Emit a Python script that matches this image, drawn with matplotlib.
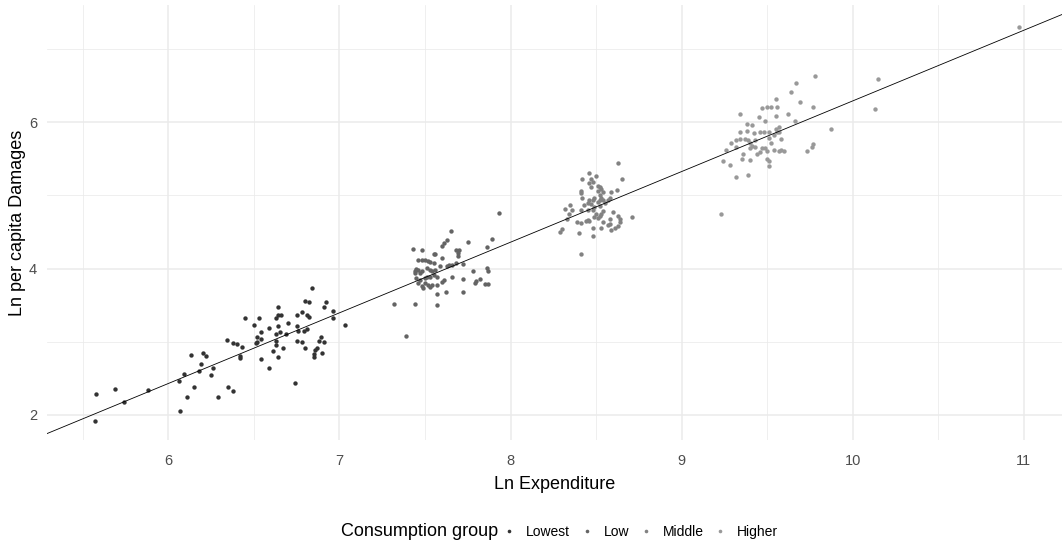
import numpy as np
import matplotlib
matplotlib.use('Agg')
import matplotlib.pyplot as plt
from matplotlib.lines import Line2D

plt.rcParams['font.family'] = ['Liberation Sans', 'DejaVu Sans']

# values (ln expenditure, ln per capita damages)
lowest_x = [5.57, 5.58, 5.69, 5.74, 5.88, 6.07, 6.06, 6.09, 6.11, 6.13, 6.15, 6.18, 6.19, 6.20,
            6.22, 6.25, 6.26, 6.29, 6.34, 6.35, 6.38, 6.40, 6.38, 6.42, 6.42, 6.43, 6.45, 6.50,
            6.51, 6.52, 6.52, 6.53, 6.54, 6.54, 6.54, 6.59, 6.59, 6.61, 6.63, 6.63, 6.63, 6.63,
            6.64, 6.64, 6.64, 6.64, 6.65, 6.66, 6.67, 6.69, 6.70, 6.74, 6.75, 6.75, 6.75, 6.76,
            6.78, 6.78, 6.79, 6.80, 6.81, 6.80, 6.81, 6.82, 6.82, 6.84, 6.85, 6.85, 6.86, 6.87,
            6.88, 6.89, 6.90, 6.91, 6.91, 6.92, 6.96, 6.96, 7.03]
lowest_y = [1.92, 2.29, 2.36, 2.18, 2.34, 2.06, 2.47, 2.56, 2.24, 2.82, 2.38, 2.60, 2.69, 2.84,
            2.80, 2.54, 2.64, 2.24, 3.03, 2.38, 2.98, 2.97, 2.33, 2.80, 2.78, 2.93, 3.33, 3.23,
            2.98, 3.07, 3.00, 3.33, 3.14, 3.04, 2.77, 3.19, 2.64, 2.88, 3.10, 3.32, 2.96, 3.01,
            3.47, 3.37, 3.21, 2.79, 3.14, 3.37, 2.92, 3.11, 3.25, 2.44, 3.36, 3.22, 3.01, 3.15,
            3.40, 2.99, 3.15, 3.56, 3.17, 2.92, 3.36, 3.54, 3.34, 3.73, 2.79, 2.83, 2.89, 2.91,
            3.01, 3.07, 2.84, 2.99, 3.48, 3.54, 3.42, 3.33, 3.23]

low_x = [7.93, 7.65, 7.63, 7.61, 7.60, 7.75, 7.89, 7.86, 7.43, 7.48, 7.68, 7.70, 7.69, 7.69,
         7.55, 7.56, 7.60, 7.46, 7.48, 7.50, 7.52, 7.53, 7.55, 7.45, 7.44, 7.46, 7.48, 7.44,
         7.47, 7.51, 7.53, 7.54, 7.56, 7.59, 7.63, 7.64, 7.66, 7.68, 7.72, 7.51, 7.45, 7.47,
         7.50, 7.53, 7.55, 7.57, 7.46, 7.48, 7.50, 7.52, 7.54, 7.53, 7.49, 7.61, 7.60, 7.66,
         7.72, 7.78, 7.86, 7.87, 7.80, 7.82, 7.79, 7.85, 7.87, 7.57, 7.57, 7.62, 7.72, 7.57,
         7.44, 7.32, 7.39]
low_y = [4.76, 4.51, 4.39, 4.35, 4.31, 4.36, 4.40, 4.29, 4.27, 4.25, 4.25, 4.26, 4.21, 4.17,
         4.20, 4.20, 4.14, 4.11, 4.12, 4.11, 4.10, 4.09, 4.07, 4.00, 3.97, 3.98, 3.96, 3.94,
         3.94, 4.01, 3.98, 3.96, 3.98, 4.03, 4.03, 4.05, 4.05, 4.08, 4.06, 3.89, 3.87, 3.85,
         3.87, 3.88, 3.91, 3.89, 3.80, 3.76, 3.80, 3.78, 3.77, 3.75, 3.73, 3.85, 3.82, 3.89,
         3.86, 3.96, 4.01, 3.97, 3.83, 3.86, 3.80, 3.79, 3.79, 3.77, 3.65, 3.68, 3.68, 3.50,
         3.52, 3.52, 3.08]

middle_x = [8.63, 8.46, 8.42, 8.50, 8.65, 8.47, 8.46, 8.48, 8.47, 8.51, 8.52, 8.53, 8.54, 8.41,
            8.41, 8.42, 8.51, 8.59, 8.62, 8.52, 8.53, 8.52, 8.51, 8.54, 8.57, 8.58, 8.46, 8.48,
            8.49, 8.45, 8.43, 8.47, 8.49, 8.52, 8.55, 8.35, 8.32, 8.36, 8.34, 8.33, 8.41, 8.45,
            8.48, 8.50, 8.52, 8.49, 8.51, 8.53, 8.54, 8.60, 8.63, 8.64, 8.64, 8.63, 8.71, 8.58,
            8.58, 8.54, 8.57, 8.61, 8.59, 8.53, 8.48, 8.45, 8.44, 8.41, 8.46, 8.39, 8.30, 8.29,
            8.40, 8.48, 8.41]
middle_y = [5.44, 5.30, 5.23, 5.26, 5.23, 5.22, 5.17, 5.18, 5.12, 5.13, 5.11, 5.09, 5.05, 5.06,
            5.03, 4.97, 5.06, 5.05, 5.07, 5.00, 4.97, 4.94, 4.91, 4.94, 4.93, 4.97, 4.94, 4.94,
            4.96, 4.90, 4.87, 4.88, 4.84, 4.85, 4.89, 4.87, 4.82, 4.80, 4.74, 4.67, 4.80, 4.80,
            4.80, 4.75, 4.72, 4.71, 4.69, 4.74, 4.78, 4.77, 4.72, 4.67, 4.63, 4.58, 4.71, 4.68,
            4.61, 4.64, 4.59, 4.55, 4.52, 4.55, 4.55, 4.66, 4.65, 4.62, 4.65, 4.63, 4.54, 4.50,
            4.48, 4.45, 4.20]

higher_x = [9.23, 9.32, 9.39, 9.28, 9.24, 9.35, 9.40, 9.26, 9.29, 9.32, 9.34, 9.37, 9.34, 9.38,
            9.38, 9.41, 9.42, 9.39, 9.40, 9.41, 9.40, 9.43, 9.44, 9.46, 9.47, 9.49, 9.50, 9.50,
            9.51, 9.51, 9.46, 9.48, 9.51, 9.52, 9.51, 9.54, 9.55, 9.56, 9.57, 9.58, 9.54, 9.57,
            9.58, 9.60, 9.45, 9.49, 9.47, 9.50, 9.52, 9.55, 9.56, 9.55, 9.34, 9.62, 9.66, 9.69,
            9.64, 9.67, 9.78, 9.77, 9.87, 9.73, 9.76, 9.77, 10.15, 10.13, 9.57, 9.36, 9.43, 9.32,
            10.97]
higher_y = [4.75, 5.25, 5.28, 5.42, 5.47, 5.49, 5.48, 5.62, 5.72, 5.75, 5.77, 5.77, 5.86, 5.88,
            5.97, 5.96, 5.85, 5.75, 5.72, 5.68, 5.64, 5.76, 5.57, 5.59, 5.64, 5.65, 5.61, 5.50,
            5.47, 5.40, 5.86, 5.87, 5.86, 5.71, 5.79, 5.83, 5.91, 5.86, 5.87, 5.77, 5.62, 5.61,
            5.62, 5.60, 6.07, 6.02, 6.19, 6.20, 6.20, 6.31, 6.20, 6.08, 6.11, 6.11, 6.02, 6.27,
            6.41, 6.54, 6.63, 6.20, 5.91, 5.60, 5.66, 5.70, 6.59, 6.18, 5.93, 5.57, 5.66, 5.66,
            7.30]

groups = ['Lowest', 'Low', 'Middle', 'Higher']
group_colors = ['#333333', '#646464', '#828282', '#999999']

# fitted line
fit_intercept = -3.36
fit_slope = 0.965

fig = plt.figure(figsize=(10.62, 5.44), dpi=100)
ax = fig.add_axes([46.7 / 1062, 1 - 440 / 544, 1 - 46.7 / 1062, 435 / 544])

series = [(lowest_x, lowest_y), (low_x, low_y), (middle_x, middle_y), (higher_x, higher_y)]
for (xs, ys), name, col in zip(series, groups, group_colors):
    ax.scatter(xs, ys, s=10, color=col, linewidths=0, label=name, zorder=3)

ax.axline((0, fit_intercept), slope=fit_slope, color='black', linewidth=0.6, zorder=4)

ax.set_xlim(5.289, 11.223)
ax.set_ylim(1.658, 7.60)
ax.set_xticks([6, 7, 8, 9, 10, 11])
ax.set_yticks([2, 4, 6])
ax.set_xticks(np.arange(5.5, 11.5, 1.0), minor=True)
ax.set_yticks([3, 5, 7], minor=True)
ax.grid(True, which='major', color='#ebebeb', linewidth=1.1)
ax.grid(True, which='minor', color='#ebebeb', linewidth=0.55)
ax.set_axisbelow(True)
for sp in ax.spines.values():
    sp.set_visible(False)
ax.tick_params(which='both', length=0)
ax.tick_params(axis='x', pad=10, labelsize=10.5, labelcolor='#4d4d4d')
ax.tick_params(axis='y', pad=7, labelsize=10.5, labelcolor='#4d4d4d')

ax.set_xlabel('Ln Expenditure', fontsize=13, labelpad=6)
ax.set_ylabel('Ln per capita Damages', fontsize=13, labelpad=2)

# legend at the bottom, title on the left of the keys
fig.text(498 / 1062, 1 - 532 / 544, 'Consumption group', fontsize=13, ha='right', va='center')
handles = [Line2D([], [], marker='o', linestyle='', markersize=2.6, markeredgewidth=0, color=c)
           for c in group_colors]
fig.legend(handles, groups, loc='center left', bbox_to_anchor=(503.7 / 1062, 1 - 532 / 544),
           ncol=4, frameon=False, fontsize=10, handlelength=0.8, handletextpad=0.82,
           columnspacing=0.79, borderpad=0, borderaxespad=0)

fig.savefig('out.png', dpi=100)
